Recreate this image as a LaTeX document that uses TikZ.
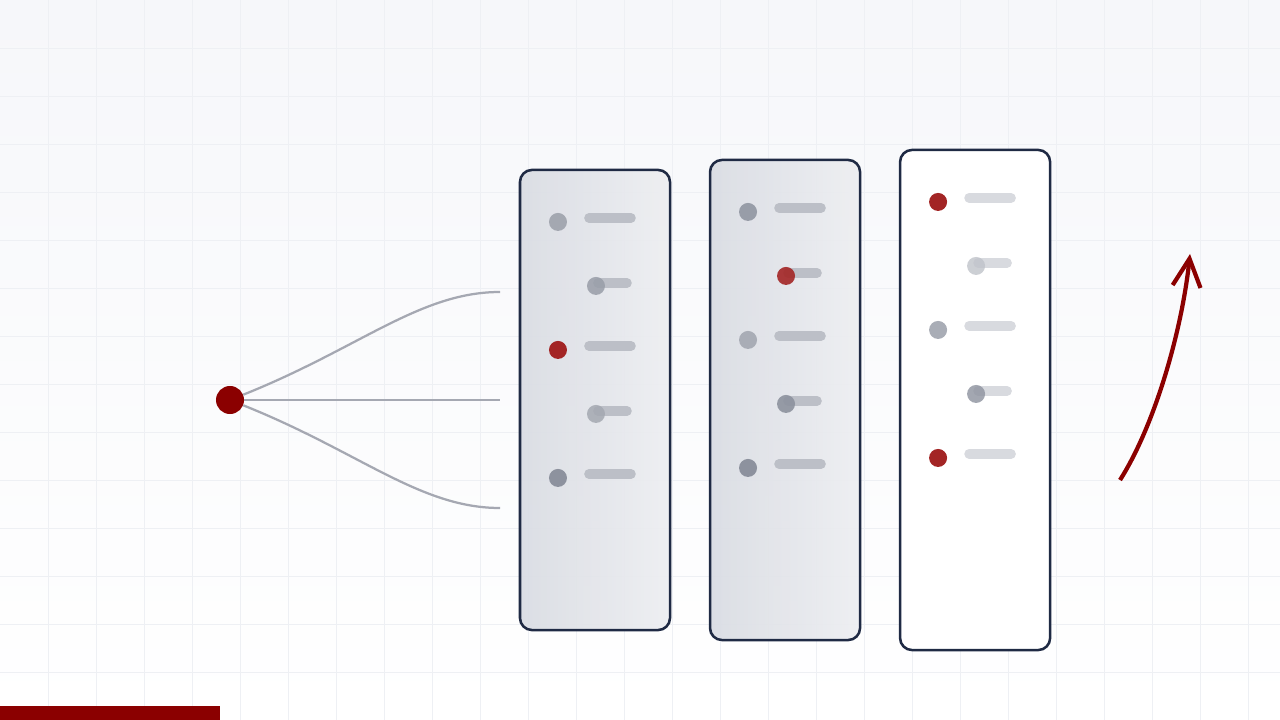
\documentclass[tikz,border=0pt]{standalone}
\usetikzlibrary{arrows.meta, positioning}

\definecolor{myNavy}{HTML}{1F2A44}
\definecolor{myRed}{HTML}{8B0000}
\definecolor{dotRed}{HTML}{A32525}
\definecolor{dotGray}{HTML}{8D929E}
\definecolor{barGray}{HTML}{BCBFC7}
\definecolor{barLight}{HTML}{D8DADF}
\definecolor{linkGray}{HTML}{A5A8B2}
\definecolor{gridLine}{HTML}{EEF0F4}
\definecolor{bgTop}{HTML}{F6F7FA}
\definecolor{panelLeft}{HTML}{D9DCE3}
\definecolor{panelRight}{HTML}{EDEEF1}

\tikzset{
  panel/.style={draw=myNavy, line width=1.8pt, rounded corners=3mm, minimum width=3.75cm, inner sep=0pt, outer sep=0pt},
  dot/.style={circle, inner sep=0pt, minimum size=4.5mm, fill=#1},
  bar/.style={draw=#1, line width=2.4mm, line cap=round},
  link/.style={draw=linkGray, line width=1.6pt},
}

\begin{document}
\begin{tikzpicture}[x=0.025cm, y=-0.025cm, node distance=1cm]
    \useasboundingbox (0,0) rectangle (1280,720);

    % background and grid
    \fill[top color=bgTop, bottom color=white] (0,0) rectangle (1280,720);
    \foreach \g in {48,96,...,1248}
        \draw[gridLine, line width=0.6pt] (\g,0) -- (\g,720);
    \foreach \g in {48,96,...,720}
        \draw[gridLine, line width=0.6pt] (0,\g) -- (1280,\g);

    % the three panels
    \node[panel, minimum height=11.5cm, left color=panelLeft, right color=panelRight, fill opacity=0.92] (p1) at (595,400) {};
    \node[panel, minimum height=12cm, left color=panelLeft, right color=panelRight, fill opacity=0.92, right=of p1] (p2) {};
    \node[panel, minimum height=12.5cm, fill=white, right=of p2] (p3) {};

    % rows of panel 1
    \begin{scope}[shift={(p1.north west)}]
        \foreach \n/\y/\c in {1/52/dotGray!80, 3/180/dotRed, 5/308/dotGray} {
            \draw[bar=barGray] (69,\y-4) -- (111,\y-4);
            \node[dot=\c] (p1d\n) at (38,\y) {};
        }
        \foreach \n/\y/\c in {2/116/dotGray!90, 4/244/dotGray!80} {
            \draw[bar=barGray] (78,\y-3) -- (107,\y-3);
            \node[dot=\c, fill opacity=0.85] (p1d\n) at (76,\y) {};
        }
    \end{scope}

    % rows of panel 2
    \begin{scope}[shift={(p2.north west)}]
        \foreach \n/\y/\c in {1/52/dotGray!90, 3/180/dotGray!75, 5/308/dotGray} {
            \draw[bar=barGray] (69,\y-4) -- (111,\y-4);
            \node[dot=\c] (p2d\n) at (38,\y) {};
        }
        \foreach \n/\y/\c in {2/116/dotRed, 4/244/dotGray} {
            \draw[bar=barGray] (78,\y-3) -- (107,\y-3);
            \node[dot=\c, fill opacity=0.9] (p2d\n) at (76,\y) {};
        }
    \end{scope}

    % rows of panel 3
    \begin{scope}[shift={(p3.north west)}]
        \foreach \n/\y/\c in {1/52/dotRed, 3/180/dotGray!75, 5/308/dotRed} {
            \draw[bar=barLight] (69,\y-4) -- (111,\y-4);
            \node[dot=\c] (p3d\n) at (38,\y) {};
        }
        \foreach \n/\y/\c in {2/116/dotGray!55, 4/244/dotGray} {
            \draw[bar=barLight] (78,\y-3) -- (107,\y-3);
            \node[dot=\c, fill opacity=0.8] (p3d\n) at (76,\y) {};
        }
    \end{scope}

    % source and its three links
    \node[dot=myRed, minimum size=7mm] (src) at (230,400) {};
    \coordinate (in1) at (500,292);
    \coordinate (in2) at (500,400);
    \coordinate (in3) at (500,508);
    \draw[link] (src) .. controls (360,348) and (420,292) .. (in1);
    \draw[link] (src) -- (in2);
    \draw[link] (src) .. controls (360,452) and (420,508) .. (in3);

    % rising arrow
    \coordinate (arrS) at (1120,480);
    \coordinate (arrE) at (1190,254);
    \draw[myRed, line width=3pt, -{Straight Barb[length=7mm, width=7mm]}] (arrS) .. controls (1155,425) and (1182,330) .. (arrE);

    % bottom strip
    \fill[myRed] (0,706) rectangle (220,720);
\end{tikzpicture}
\end{document}
